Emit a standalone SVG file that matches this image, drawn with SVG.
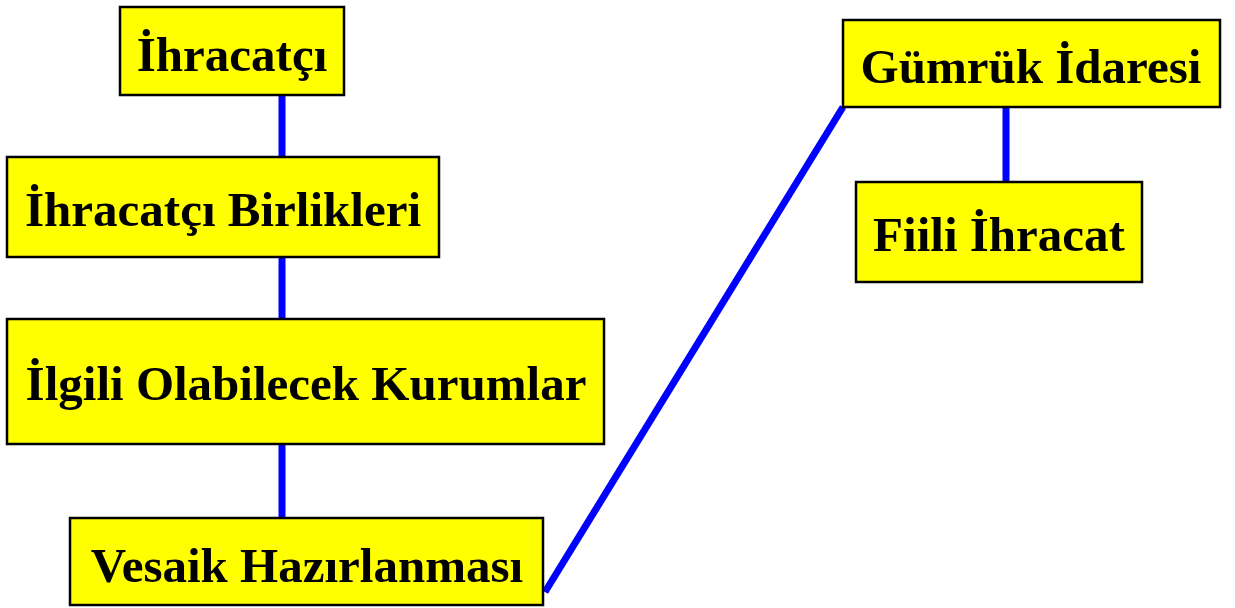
<svg xmlns="http://www.w3.org/2000/svg" width="1235" height="608" viewBox="0 0 1235 608">
<style>
.box{fill:#ffff00;stroke:#000;stroke-width:2.5}
.lbl{font-family:"Liberation Serif","Times New Roman",serif;font-weight:bold;font-size:49px;fill:#000;text-anchor:middle}
.con{stroke:#0000ff;stroke-width:7;fill:none}
</style>
<rect width="1235" height="608" fill="#fff"/>
<g id="connectors">
<line class="con" x1="282" y1="95" x2="282" y2="157"/>
<line class="con" x1="282" y1="257" x2="282" y2="319"/>
<line class="con" x1="282" y1="444" x2="282" y2="518"/>
<line class="con" x1="545" y1="592" x2="843" y2="107"/>
<line class="con" x1="1006" y1="107" x2="1006" y2="182"/>
</g>
<g id="n1"><rect class="box" x="120" y="7" width="224" height="88"/><text class="lbl" x="232" y="71">İhracatçı</text></g>
<g id="n2"><rect class="box" x="7" y="157" width="432" height="100"/><text class="lbl" x="223" y="226">İhracatçı Birlikleri</text></g>
<g id="n3"><rect class="box" x="7" y="319" width="597" height="125"/><text class="lbl" x="306" y="400">İlgili Olabilecek Kurumlar</text></g>
<g id="n4"><rect class="box" x="70" y="518" width="473" height="87"/><text class="lbl" x="307" y="582">Vesaik Hazırlanması</text></g>
<g id="n5"><rect class="box" x="843" y="20" width="377" height="87"/><text class="lbl" x="1031" y="83">Gümrük İdaresi</text></g>
<g id="n6"><rect class="box" x="856" y="182" width="286" height="100"/><text class="lbl" x="999" y="251">Fiili İhracat</text></g>
</svg>
